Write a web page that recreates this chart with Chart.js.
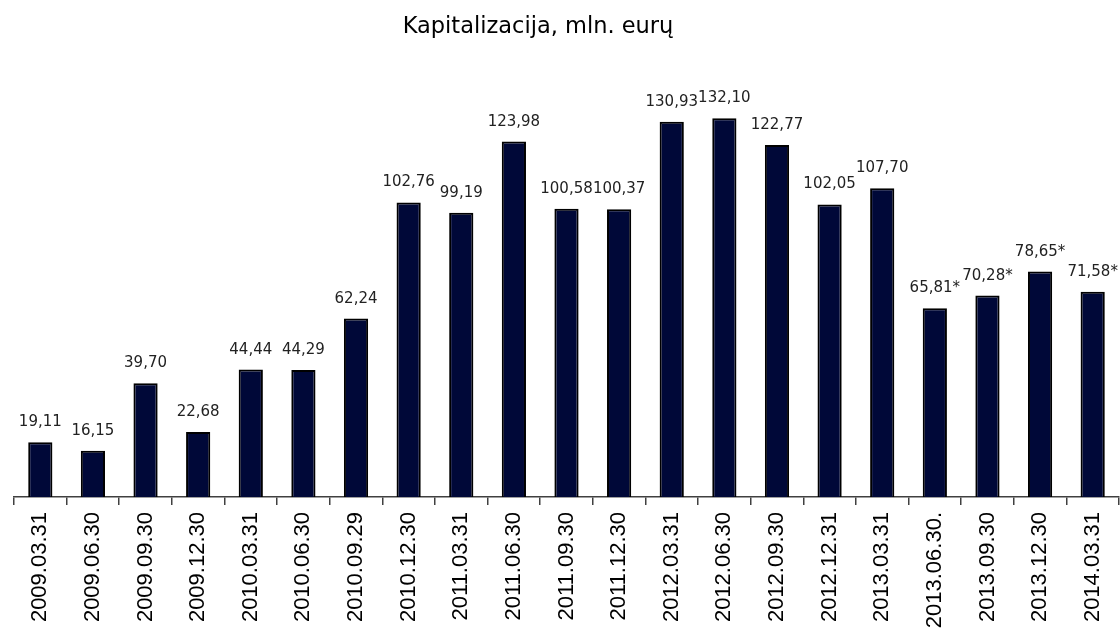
<!DOCTYPE html>
<html lang="lt">
<head>
  <meta charset="UTF-8">
  <title>Kapitalizacija, mln. eurų</title>
  <script src="https://cdn.jsdelivr.net/npm/chart.js"></script>
  <style>
    body { margin:0; background:#fff; }
    .wrap { width:1120px; height:632px; position:relative; }
  </style>
</head>
<body>
<div class="wrap"><canvas id="capChart"></canvas></div>

<script>
// Data
const chartTitle = 'Kapitalizacija, mln. eurų';
const dates = ['2009.03.31','2009.06.30','2009.09.30','2009.12.30','2010.03.31','2010.06.30','2010.09.29',
  '2010.12.30','2011.03.31','2011.06.30','2011.09.30','2011.12.30','2012.03.31','2012.06.30','2012.09.30',
  '2012.12.31','2013.03.31','2013.06.30.','2013.09.30','2013.12.30','2014.03.31'];
const capValues = [19.11,16.15,39.70,22.68,44.44,44.29,62.24,102.76,99.19,123.98,100.58,100.37,
  130.93,132.10,122.77,102.05,107.70,65.81,70.28,78.65,71.58];
const valueNotes = ['','','','','','','','','','','','','','','','','','*','*','*','*'];

// title (sits a bit left of the plot centre, like the original) + value labels above bars
const barLabels = {
  id: 'barLabels',
  afterDraw(chart) {
    const ctx = chart.ctx, meta = chart.getDatasetMeta(0);
    ctx.save();
    ctx.fillStyle = '#000';
    ctx.textAlign = 'center';
    ctx.textBaseline = 'alphabetic';
    ctx.font = '22.5px "DejaVu Sans", sans-serif';
    ctx.fillText(chartTitle, 538, 33);

    ctx.font = '15px "DejaVu Sans", sans-serif';
    ctx.fillStyle = '#222';
    meta.data.forEach((bar, i) => {
      const txt = capValues[i].toFixed(2).replace('.', ',') + valueNotes[i];
      ctx.fillText(txt, bar.x, bar.y - 16);
    });
    ctx.restore();
  }
};

new Chart(document.getElementById('capChart'), {
  type: 'bar',
  data: {
    labels: dates,
    datasets: [{
      data: capValues,
      backgroundColor: '#000838',
      borderColor: '#000',
      borderWidth: 2,
      categoryPercentage: 1,
      barPercentage: 0.46
    }]
  },
  options: {
    responsive: true,
    maintainAspectRatio: false,
    animation: false,
    layout: { padding: { left: 14, right: 1, top: 67, bottom: 0 } },
    plugins: {
      legend: { display: false },
      tooltip: { enabled: false },
      title: { display: false }
    },
    scales: {
      y: { display: false, min: 0, max: 150 },
      x: {
        afterFit(scale) {
          scale.height = 135;
          scale.paddingLeft = 0;
          scale.paddingRight = 0;
        },
        border: { display: true, color: '#404040', width: 1.5 },
        grid: { offset: true, drawOnChartArea: false, drawTicks: true, tickLength: 8, color: '#404040', lineWidth: 1.5 },
        ticks: {
          autoSkip: false, minRotation: 90, maxRotation: 90, padding: 7,
          color: '#000',
          font: { family: '"Liberation Sans", Arial, sans-serif', size: 22 }
        }
      }
    }
  },
  plugins: [barLabels]
});
</script>
</body>
</html>
